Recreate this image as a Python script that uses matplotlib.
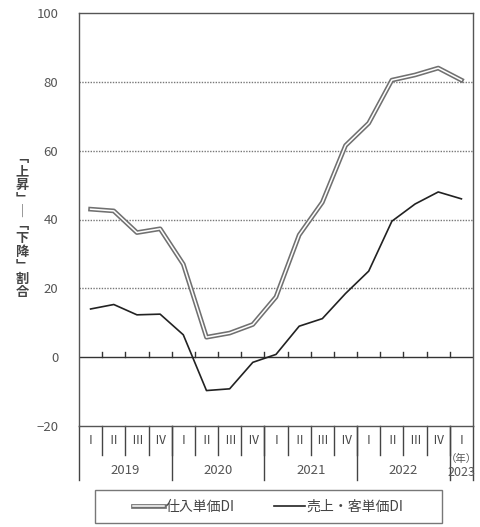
import numpy as np
import matplotlib
matplotlib.use("Agg")
from matplotlib import pyplot as plt
import matplotlib.patheffects as pe
from matplotlib.patches import Rectangle

plt.rcParams['font.family'] = ['Noto Sans CJK JP', 'DejaVu Sans']

# data
quarters = ['Ⅰ', 'Ⅱ', 'Ⅲ', 'Ⅳ'] * 4 + ['Ⅰ']
years = ['2019', '2020', '2021', '2022']
purchase_di = [43, 42.5, 36.2, 37.3, 27, 5.8, 7, 9.5, 17.5, 35.5, 45, 61.5, 68, 80.5, 82, 84, 80.5]
sales_di = [14, 15.3, 12.3, 12.5, 6.5, -9.7, -9.2, -1.5, 0.8, 9, 11.2, 18.5, 25, 39.5, 44.5, 48, 46]
yticks = [-20, 0, 20, 40, 60, 80, 100]

W, H = 481, 527
fig = plt.figure(figsize=(W / 100, H / 100), dpi=100)
ax = fig.add_axes([79 / W, 1 - 426 / H, (473 - 79) / W, (426 - 13) / H])

n = len(purchase_di)
x = np.arange(n)

ax.set_xlim(-0.5, n - 0.5)
ax.set_ylim(-20, 100)

# grid lines
for v in [20, 40, 60, 80]:
    ax.axhline(v, color='#777777', lw=1.0, ls=(0, (1, 1)), zorder=1)
ax.axhline(0, color='#333333', lw=1.0, zorder=2)
for b in np.arange(0.5, n - 1, 1.0):
    ax.plot([b, b], [0, 1.4], color='#333333', lw=1.0, zorder=2)

# series
ax.plot(x, purchase_di, color='white', lw=1.1, zorder=4, label='仕入単価DI',
        path_effects=[pe.Stroke(linewidth=3.4, foreground='#707070'), pe.Normal()])
ax.plot(x, sales_di, color='#222222', lw=1.2, zorder=3, label='売上・客単価DI')

for s in ax.spines.values():
    s.set_color('#555555')
    s.set_linewidth(1.0)

ax.set_xticks([])
ax.set_yticks(yticks)
ax.tick_params(axis='y', length=0, pad=15, labelsize=9.5, labelcolor='#555555')

# category table below axis
px = 120 / (426 - 13)  # data units per pixel
q_bot = -20 - 29 * px
y_bot = -20 - 54 * px
for b in np.arange(0.5, n - 1, 1.0):
    ax.plot([b, b], [-20, q_bot], color='#444444', lw=1.0, clip_on=False)
for b in [-0.5, 3.5, 7.5, 11.5, 15.5, n - 0.5]:
    ax.plot([b, b], [-20, y_bot], color='#444444', lw=1.0, clip_on=False)
for i, q in enumerate(quarters):
    ax.text(i, -20 - 14 * px, q, ha='center', va='center', fontsize=8.5,
            color='#444444', clip_on=False)
for j, yr in enumerate(years):
    ax.text(4 * j + 1.5, -20 - 44 * px, yr, ha='center', va='center', fontsize=9.5,
            color='#555555', clip_on=False)
ax.text(16, -20 - 33 * px, '（年）', ha='center', va='center', fontsize=7.5,
        color='#555555', clip_on=False)
ax.text(16, -20 - 46 * px, '2023', ha='center', va='center', fontsize=9,
        color='#555555', clip_on=False)

# vertical y label
label = '﹁上昇﹂│﹁下降﹂割合'
fig.text(22 / W, 1 - 225 / H, '\n'.join(label), ha='center', va='center',
         fontsize=9.5, color='#444444', linespacing=0.95, fontweight='bold')

# legend
fig.patches.append(Rectangle((95 / W, 1 - 523 / H), 347 / W, 33 / H,
                             transform=fig.transFigure, fill=False,
                             edgecolor='#777777', lw=1.0))
fig.legend(loc='center', bbox_to_anchor=(268.5 / W, 1 - 506.5 / H), ncol=2,
           frameon=False, fontsize=10, handlelength=2.2, handletextpad=0.15,
           columnspacing=2.8, labelcolor='#444444')

plt.savefig('out.png', dpi=100)
